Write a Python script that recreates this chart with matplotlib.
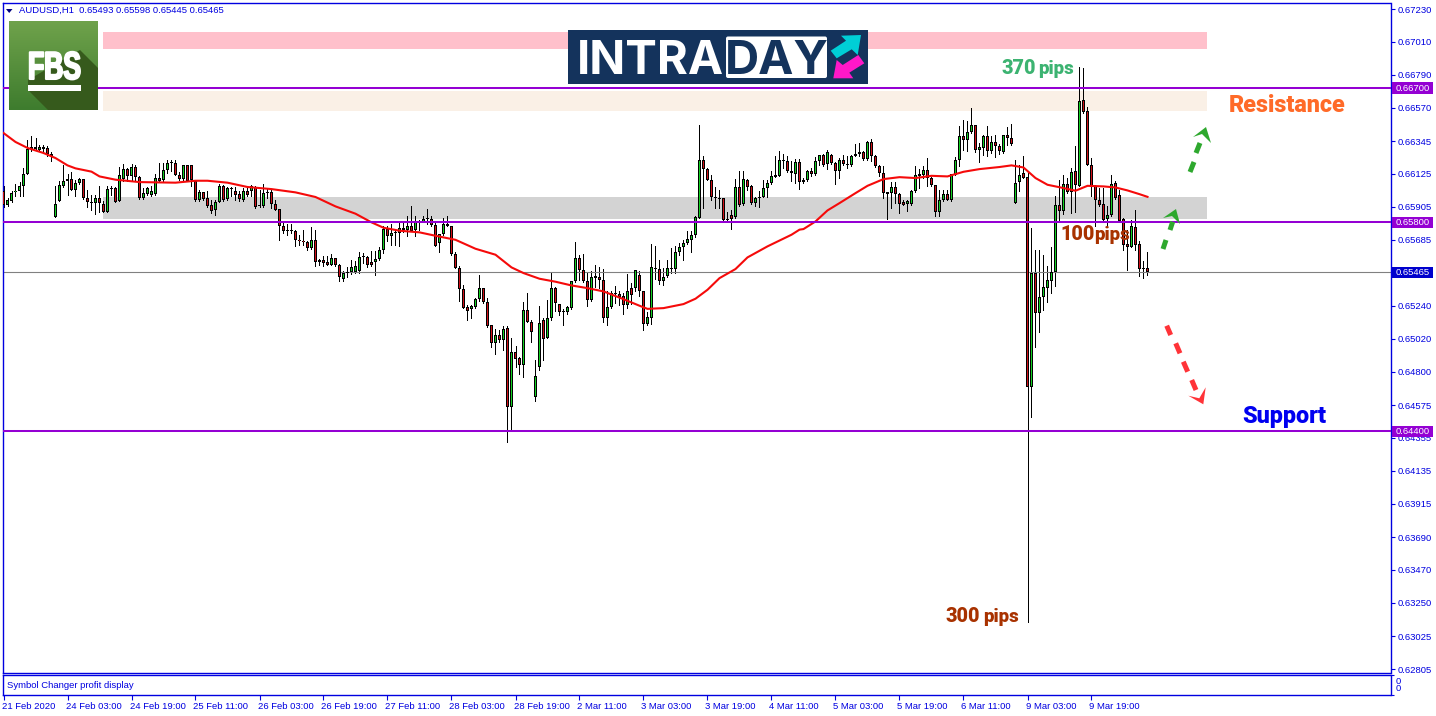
import matplotlib
matplotlib.use('Agg')
import matplotlib.pyplot as plt
import numpy as np
from matplotlib.colors import LinearSegmentedColormap
from matplotlib.patches import FancyBboxPatch, Polygon, Rectangle
from matplotlib.patheffects import AbstractPathEffect
from matplotlib.transforms import Affine2D, ScaledTranslation

open_pts = [
    66008,65914,65943,66001,66008,66041,66124,66307,66307,66287,
    66294,66301,66261,65835,65943,66041,66077,66091,66019,66066,
    66091,65963,65938,65927,65963,65925,65867,66021,66028,65943,
    66093,66160,66108,66173,66106,65965,65992,65981,65988,66099,
    66082,66151,66196,66198,66120,66093,66182,66182,66075,65947,
    66001,65963,65918,65880,65936,66046,65954,66026,66008,65990,
    65952,66012,66012,66037,65914,65907,66005,66005,65925,65889,
    65777,65744,65744,65741,65683,65677,65665,65625,65683,65531,
    65549,65531,65511,65558,65516,65419,65460,65469,65469,65471,
    65565,65569,65536,65531,65554,65612,65755,65706,65726,65728,
    65746,65751,65777,65746,65804,65804,65822,65822,65782,65659,
    65719,65791,65775,65587,65493,65352,65232,65216,65234,65285,
    65359,65265,65111,64988,65044,65012,65091,64565,64930,64889,
    64845,65211,65131,64632,64831,65147,65028,65156,65359,65252,
    65207,65200,65227,65404,65560,65480,65408,65281,65424,65433,
    65413,65162,65232,65321,65319,65303,65243,65359,65359,65446,
    65339,65120,65156,65487,65487,65404,65437,65489,65487,65598,
    65632,65659,65679,65712,65829,66218,66158,66084,65968,65963,
    65963,65818,65849,65836,66037,65923,66086,66046,65927,65963,
    65968,66028,66062,66106,66113,66209,66209,66147,66126,66205,
    66068,66081,66146,66121,66209,66251,66193,66253,66197,66142,
    66218,66182,66182,66242,66256,66271,66222,66338,66244,66177,
    66130,66001,65994,66039,65992,65936,65922,65920,66007,66110,
    66115,66150,66097,66050,65869,65949,65989,65951,66119,66215,
    66379,66354,66405,66455,66282,66298,66381,66280,66338,66314,
    66273,66385,66365,65933,66072,66130,66101,64695,65459,65195,
    65298,65359,65410,65470,65918,65873,66057,66001,66141,66045,
    66620,66546,66186,66045,65951,65925,65822,65846,66063,65983,
    65822,65654,65638,65770,65654,65486,65493,
]
close_pts = [
    65914,65952,65997,66012,66046,66126,66294,66294,66292,66307,
    66307,66258,66243,65925,66050,66077,66091,66019,66066,66091,
    65961,65934,65930,65963,65927,65867,66023,66026,65938,66120,
    66160,66108,66171,66104,65965,65999,66028,66012,66097,66079,
    66151,66196,66198,66120,66091,66182,66079,66082,65952,66001,
    65958,65909,65878,65938,66046,65952,66030,66030,65985,65956,
    66008,65983,66046,65903,65909,65997,65997,65925,65885,65773,
    65739,65739,65739,65679,65672,65665,65625,65683,65531,65549,
    65527,65513,65558,65511,65433,65460,65469,65504,65509,65565,
    65569,65516,65516,65554,65616,65755,65706,65728,65728,65762,
    65760,65777,65744,65809,65809,65822,65829,65782,65639,65719,
    65789,65773,65585,65491,65350,65229,65209,65236,65285,65359,
    65263,65106,64988,65044,65012,65088,64565,64930,64887,64845,
    65211,65129,65062,64769,65124,65021,65158,65359,65256,65200,
    65198,65232,65404,65560,65480,65404,65281,65433,65440,65411,
    65162,65232,65326,65326,65301,65245,65339,65314,65480,65337,
    65120,65165,65500,65493,65404,65433,65493,65493,65601,65634,
    65661,65688,65715,65836,66218,66155,66082,65968,65963,65954,
    65818,65815,65820,66037,65918,66091,66035,65927,65963,65970,
    66030,66064,66111,66117,66218,66214,66142,66131,66205,66068,
    66086,66142,66121,66211,66251,66186,66269,66195,66142,66218,
    66188,66186,66247,66260,66271,66222,66338,66242,66177,66128,
    65994,65989,66039,65992,65922,65918,65942,66009,66115,66124,
    66150,66097,66048,65869,65949,65989,65951,66124,66218,66379,
    66354,66405,66455,66282,66305,66381,66276,66338,66309,66276,
    66385,66363,66325,66063,66117,66097,64699,65459,65191,65298,
    65365,65414,65468,65916,65873,66057,66001,66139,66048,66616,
    66540,66182,66041,65947,65918,65817,65846,66057,65963,65810,
    65649,65638,65777,65649,65486,65484,65465,
]
high_pts = [
    66046,65963,66008,66059,66068,66164,66354,66381,66366,66316,
    66321,66310,66269,66046,66075,66187,66126,66135,66086,66099,
    66091,66019,65985,65985,66041,65941,66041,66046,66037,66169,
    66189,66164,66193,66182,66108,66030,66037,66041,66126,66198,
    66198,66220,66216,66216,66135,66187,66187,66182,66082,66014,
    66001,66008,65952,65952,66059,66050,66037,66037,66037,66008,
    66030,66030,66052,66041,66019,66059,66030,66019,65952,65889,
    65795,65791,65791,65750,65717,65746,65672,65768,65750,65554,
    65572,65572,65589,65558,65522,65471,65504,65549,65538,65598,
    65594,65572,65605,65605,65634,65773,65773,65791,65750,65795,
    65795,65840,65912,65845,65818,65840,65892,65840,65795,65724,
    65829,65845,65777,65598,65509,65381,65247,65245,65292,65449,
    65359,65292,65113,65086,65079,65102,65102,65026,64972,64896,
    65267,65326,65142,64874,65241,65158,65281,65460,65366,65254,
    65218,65241,65404,65668,65583,65587,65460,65471,65511,65498,
    65487,65337,65337,65375,65337,65326,65455,65393,65482,65471,
    65343,65202,65657,65639,65549,65493,65549,65628,65639,65661,
    65679,65739,65739,65840,66455,66247,66164,66120,66037,66019,
    65963,65871,65885,66091,66142,66142,66093,66050,65970,66008,
    66086,66086,66142,66243,66276,66261,66243,66209,66225,66225,
    66097,66153,66164,66235,66253,66256,66287,66260,66202,66231,
    66253,66242,66253,66327,66332,66276,66343,66358,66253,66186,
    66175,66001,66068,66072,65996,65951,65951,66018,66175,66157,
    66175,66231,66101,66050,66014,66014,66018,66126,66238,66444,
    66488,66477,66567,66455,66332,66388,66448,66381,66385,66327,
    66388,66437,66461,66220,66186,66247,66130,65762,65616,65616,
    65582,65508,65638,65978,66086,66119,66097,66164,66314,66842,
    66837,66573,66231,66052,66030,66030,65907,66119,66074,66018,
    65828,65750,65817,65884,65672,65544,65598,
]
low_pts = [
    65903,65907,65938,65974,65974,65979,66124,66276,66283,66276,
    66276,66243,66209,65835,65941,66037,65985,66014,65974,66059,
    65956,65903,65880,65856,65867,65867,65867,65985,65934,65941,
    66075,66075,66075,66075,65956,65959,65983,65979,65985,66075,
    66068,66131,66142,66115,66082,66086,66075,66046,65941,65941,
    65952,65903,65862,65851,65934,65941,65952,65974,65947,65941,
    65945,65974,65974,65896,65903,65903,65963,65896,65880,65679,
    65728,65717,65728,65639,65650,65650,65616,65621,65509,65516,
    65509,65511,65511,65509,65404,65404,65433,65455,65460,65460,
    65527,65504,65509,65448,65549,65594,65672,65650,65650,65639,
    65733,65706,65739,65710,65746,65800,65791,65777,65639,65603,
    65717,65773,65581,65491,65270,65229,65147,65158,65227,65270,
    65258,65097,64963,64918,65001,64941,64330,64404,64833,64784,
    64766,65129,65001,64605,64811,64878,65028,65142,65209,65180,
    65113,65187,65218,65397,65415,65402,65241,65274,65364,65359,
    65129,65109,65225,65258,65247,65187,65223,65254,65343,65303,
    65079,65113,65120,65420,65386,65381,65433,65460,65460,65583,
    65545,65657,65603,65701,65829,65896,66082,65952,65894,65896,
    65800,65806,65757,65829,65907,65916,66019,65925,65907,65903,
    65968,65970,66059,66104,66113,66164,66135,66075,66064,66023,
    66063,66079,66108,66117,66186,66175,66157,66191,66059,66097,
    66184,66164,66180,66242,66242,66215,66218,66209,66171,66112,
    65963,65824,65895,65929,65866,65913,65873,65918,66005,66030,
    66097,66041,66045,65840,65840,65945,65947,65940,66115,66180,
    66287,66280,66399,66271,66202,66253,66247,66265,66238,66260,
    66265,66320,66320,65933,66007,66095,63120,64497,64967,65068,
    65213,65269,65325,65374,65817,65857,65996,65866,65869,66041,
    66533,66182,65978,65777,65907,65813,65772,65844,65958,65806,
    65616,65482,65638,65616,65437,65428,65445,
]

ma_bar = [0,3,6,10,13,16,18,22,24,28,34,43,48,51,56,61,67,73,78,83,88,92,95,99,
          104,108,113,118,123,127,130,134,138,142,146,150,155,159,161,165,170,173,176,179,183,186,191,197,199,
          200,203,206,209,213,216,220,224,228,232,236,240,244,249,252,255,258,261,265,268,271,275,278,281,284,286]
ma_pts = [66399,66339,66299,66265,66231,66182,66162,66140,66108,66086,66070,66066,66079,66079,66066,66037,66023,66001,65970,65907,65858,65800,65764,65744,
          65733,65710,65683,65623,65583,65498,65460,65422,65402,65377,65359,65337,65285,65241,65220,65225,65252,65288,65348,65426,65487,65565,65639,65717,65751,
          65755,65806,65880,65929,65996,66045,66090,66103,66097,66112,66108,66139,66157,66171,66182,66168,66097,66052,66030,66012,66045,66041,66034,66014,65989,65971]

price_ticks = [0.67230,0.67010,0.66790,0.66570,0.66345,0.66125,0.65905,0.65685,0.65465,0.65240,0.65020,
               0.64800,0.64575,0.64355,0.64135,0.63915,0.63690,0.63470,0.63250,0.63025,0.62805]
time_labels = ['21 Feb 2020','24 Feb 03:00','24 Feb 19:00','25 Feb 11:00','26 Feb 03:00','26 Feb 19:00',
               '27 Feb 11:00','28 Feb 03:00','28 Feb 19:00','2 Mar 11:00','3 Mar 03:00','3 Mar 19:00',
               '4 Mar 11:00','5 Mar 03:00','5 Mar 19:00','6 Mar 11:00','9 Mar 03:00','9 Mar 19:00']
levels = [0.66700, 0.65800, 0.64400]
bid = 0.65465
title_ohlc = [0.65493, 0.65598, 0.65445, 0.65465]
zones = [(0.67079, 0.66959, '#ffc0cb'), (0.66683, 0.66549, '#faf0e6'), (0.65972, 0.65825, '#d3d3d3')]
zone_start, zone_end = 25, 301

BLUE = '#0000e0'
PURPLE = '#9400d3'
W, H = 1436, 716
font = 'Liberation Sans'
fs = 6.8


def box(x0, y0, x1, y1):
    return [x0 / W, 1 - y1 / H, (x1 - x0) / W, (y1 - y0) / H]


class Squeeze(AbstractPathEffect):
    # narrows and thickens a text about a display x, there is no condensed bold font to hand
    def __init__(self, cx, sx, stroke):
        super().__init__()
        self.t = Affine2D().translate(-cx, 0).scale(sx, 1).translate(cx, 0)
        self.stroke = stroke

    def draw_path(self, renderer, gc, tpath, affine, rgbFace=None):
        gc0 = renderer.new_gc()
        gc0.copy_properties(gc)
        gc0.set_linewidth(self.stroke)
        gc0.set_foreground(rgbFace)
        renderer.draw_path(gc0, tpath, affine + self.t, rgbFace)
        gc0.restore()


o = np.array(open_pts) / 1e5
c = np.array(close_pts) / 1e5
hi = np.array(high_pts) / 1e5
lo = np.array(low_pts) / 1e5
bars = np.arange(len(o))

fig = plt.figure(figsize=(W / 100, H / 100), dpi=100)
ax = fig.add_axes(box(2.5, 2.5, 1390.5, 672.5))
ax.set_xlim(-0.25, 346.75)
ax.set_ylim(0.62782, 0.67274)
one_px = (0.67274 - 0.62782) / 670

for top, bottom, col in zones:
    ax.fill_between([zone_start, zone_end], bottom, top, color=col, lw=0, zorder=1)

ax.vlines(bars, lo, hi, color='black', lw=0.72, zorder=2, antialiased=False)

# body: black block, then a one pixel core of the candle colour inside it
body_lo = np.minimum(o, c)
body_hi = np.maximum(o, c)
ax.bar(bars, np.maximum(body_hi - body_lo, one_px), bottom=body_lo, width=0.75, color='black', lw=0, zorder=3, antialiased=False)
tall = body_hi - body_lo > 1.5 * one_px
for mask, col in [(tall & (c >= o), '#12d022'), (tall & (c < o), '#d01018')]:
    ax.bar(bars[mask], (body_hi - body_lo)[mask] - 2 * one_px, bottom=body_lo[mask] + one_px, width=0.25,
           color=col, lw=0, zorder=3.5, antialiased=False)

ax.plot(ma_bar, np.array(ma_pts) / 1e5, color='#f50a0a', lw=1.5, zorder=4)

ax.axhline(bid, color='#808080', lw=0.8, zorder=2)
for lv in levels:
    ax.axhline(lv, color=PURPLE, lw=1.45, zorder=5)

ax.yaxis.tick_right()
ax.set_yticks(price_ticks)
ax.set_yticklabels(['%.5f' % p for p in price_ticks], color=BLUE, fontsize=fs, family=font)
ax.tick_params(axis='y', length=3, width=0.8, color=BLUE, pad=2.3)
ax.set_xticks([])
for s in ax.spines.values():
    s.set_color(BLUE)
    s.set_linewidth(1.0)

for lv, col in [(0.66700, PURPLE), (0.65800, PURPLE), (0.64400, PURPLE), (bid, '#0000cd')]:
    ax.add_patch(Rectangle((1.0011, lv - 0.00038), 41 / 1388, 0.00076, transform=ax.get_yaxis_transform(),
                           fc=col, ec='none', clip_on=False, zorder=7))
    ax.annotate('%.5f' % lv, xy=(1, lv), xycoords=ax.get_yaxis_transform(), xytext=(5.5, 0), textcoords='offset pixels',
                va='center', ha='left', color='white', fontsize=fs, family=font, zorder=8, annotation_clip=False)

# lower indicator strip carries the time axis
ax2 = fig.add_axes(box(2.5, 674.5, 1390.5, 695))
ax2.set_xlim(-0.25, 346.75)
ax2.set_ylim(0, 1)
ax2.set_xticks(np.arange(len(time_labels)) * 16)
ax2.set_xticklabels(time_labels, color=BLUE, fontsize=fs, family=font, ha='left')
ax2.tick_params(axis='x', length=3.5, width=0.8, color=BLUE, pad=1.5)
nudge = ScaledTranslation(-2 / 100, 0, fig.dpi_scale_trans)
for lab in ax2.get_xticklabels():
    lab.set_transform(lab.get_transform() + nudge)
ax2.yaxis.tick_right()
ax2.set_yticks([0, 1])
ax2.set_yticklabels(['', ''])
ax2.tick_params(axis='y', length=2, width=0.8, color=BLUE)
for s in ax2.spines.values():
    s.set_color(BLUE)
    s.set_linewidth(1.0)
ax2.text(0.0033, 0.45, 'Symbol Changer profit display', transform=ax2.transAxes, color=BLUE, fontsize=fs, family=font, va='center')
ax2.text(1.0035, 0.67, '0', transform=ax2.transAxes, color=BLUE, fontsize=fs, family=font, va='center')
ax2.text(1.0035, 0.3, '0', transform=ax2.transAxes, color=BLUE, fontsize=fs, family=font, va='center')

# overlay in picture pixels for logos, labels and drawn arrows
ov = fig.add_axes([0, 0, 1, 1], zorder=10)
ov.patch.set_alpha(0)
ov.axis('off')

ov.add_patch(Polygon([(6, 9), (12.5, 9), (9.2, 13)], fc='#000080', ec='none'))
ov.text(19, 10.5, 'AUDUSD,H1  ' + ' '.join('%.5f' % v for v in title_ohlc), color=BLUE, fontsize=fs, family=font, va='center')

grad = np.linspace(0, 1, 90).reshape(-1, 1)
cmap = LinearSegmentedColormap.from_list('logo', ['#6fa24b', '#3e7c2e'])
ov.imshow(grad, extent=(9, 98, 110, 21), cmap=cmap, aspect='auto', zorder=1)
ov.set_xlim(0, W)
ov.set_ylim(H, 0)
ov.add_patch(Polygon([(80, 50), (98, 68), (98, 110), (48, 110), (28, 90), (28, 80)], fc='#365a1c', ec='none', zorder=2))
ov.text(54.5, 79, 'FBS', color='white', fontsize=28, fontweight='bold', family='Liberation Sans',
        ha='center', va='baseline', zorder=3, path_effects=[Squeeze(54.5, 0.68, 1.5)])
ov.fill_between([28, 81], 85, 91, color='white', lw=0, zorder=3)

ov.fill_between([568, 868], 30, 84, color='#14335c', lw=0, zorder=1)
ov.add_patch(FancyBboxPatch((726, 36.5), 101, 41.5, boxstyle='round,pad=0,rounding_size=2', fc='white', ec='none', zorder=2))
ov.text(577, 74, 'INTRA', color='white', fontsize=34, fontweight='bold', family='Inter', ha='left', va='baseline', zorder=3)
ov.text(777, 74, 'DAY', color='#14335c', fontsize=34, fontweight='bold', family='Inter', ha='center', va='baseline', zorder=3)
ov.add_patch(Polygon([(841, 35.7), (861, 35), (857.7, 55), (851.7, 49.3), (836.7, 58.3), (830.7, 50.7), (846, 40.7)], fc='#00cfd6', ec='none', zorder=3))
ov.add_patch(Polygon([(833.3, 78.3), (836.7, 60), (842.7, 65), (858.3, 55), (864.3, 63.3), (849.3, 72.7), (853.3, 78.3)], fc='#ff18c8', ec='none', zorder=3))

lab_font = ['Roboto', 'DejaVu Sans']
pips_notes = [('370', 1002, 1038, 73.5, '#3cb371'), ('100', 1060, 1094, 240, '#a83200'), ('300', 945, 983, 622, '#a83200')]
for num, x_num, x_pips, base, col in pips_notes:
    ov.text(x_num, base, num, color=col, fontsize=14.2, fontweight='black', family=lab_font, va='baseline')
    ov.text(x_pips, base, 'pips', color=col, fontsize=13.5, fontweight='black', family=lab_font, va='baseline')
ov.text(1229, 111.5, 'Resistance', color='#ff6a28', fontsize=16.8, fontweight='black', family=lab_font, va='baseline')
ov.text(1242, 423, 'Support', color='#0000f0', fontsize=16.8, fontweight='black', family=lab_font, va='baseline')

# dashes and chevron heads of the three hand drawn arrows
dash_sets = [
    ('#2ea82e', [((1166, 240), (1163, 249)), ((1172.7, 221.7), (1170, 230))],
     [(1176, 209), (1163, 218), (1172, 216), (1180, 224)]),
    ('#2ea82e', [((1194, 162), (1190, 172)), ((1200, 143), (1196, 153))],
     [(1206, 127), (1193, 137), (1202, 134), (1211, 143)]),
    ('#ff3338', [((1166.7, 325.7), (1170.7, 335)), ((1175.7, 343.3), (1180, 353.3)), ((1183.3, 361.7), (1187.7, 371.7)), ((1191.7, 380), (1196, 390))],
     [(1203.3, 404.3), (1188.3, 395.7), (1199.3, 398.3), (1205.7, 387.3)]),
]
for col, dashes, head in dash_sets:
    for a, b in dashes:
        ov.plot([a[0], b[0]], [a[1], b[1]], color=col, lw=3.6, solid_capstyle='butt', zorder=3)
    ov.add_patch(Polygon(head, fc=col, ec='none', zorder=3))

fig.savefig('out.png', dpi=100)
